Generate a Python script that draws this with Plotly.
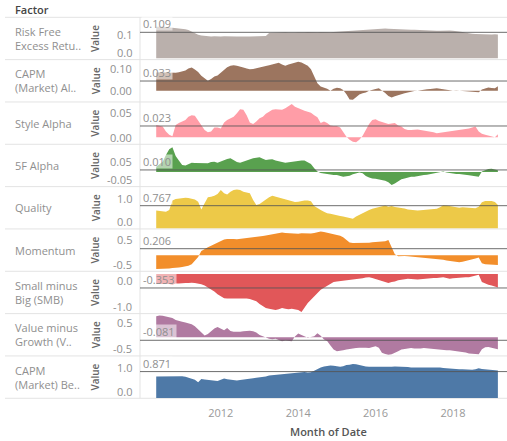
import plotly.graph_objects as go
import pandas as pd

# ---------------- data ----------------
months = pd.date_range("2010-05-01", "2019-03-01", freq="MS")

factor_labels = ["Risk Free<br>Excess Retu..", "CAPM<br>(Market) Al..", "Style Alpha",
                 "5F Alpha", "Quality", "Momentum", "Small minus<br>Big (SMB)",
                 "Value minus<br>Growth (V..", "CAPM<br>(Market) Be.."]

colors = ["#BAB0AC", "#9C755F", "#FF9DA7", "#59A14F", "#EDC948",
          "#F28E2B", "#E15759", "#B07AA1", "#4E79A7"]

ref_values = [0.109, 0.033, 0.023, 0.010, 0.767, 0.206, -0.353, -0.081, 0.871]
ref_labels = ["0.109", "0.033", "0.023", "0.010", "0.767", "0.206", "-0.353", "-0.081", "0.871"]

tick_values = [[0.0, 0.1], [0.0, 0.1], [0.0, 0.05], [-0.05, 0.05], [0.0, 1.0],
               [-0.5, 0.5], [-1.0, 0.0], [-0.5, 0.5], [0.0, 1.0]]
tick_texts = [["0.0", "0.1"], ["0.00", "0.10"], ["0.00", "0.05"], ["-0.05", "0.05"],
              ["0.0", "1.0"], ["-0.5", "0.5"], ["-1.0", "0.0"], ["-0.5", "0.5"], ["0.0", "1.0"]]

y_ranges = [[-0.0055, 0.172], [-0.0383, 0.1058], [-0.0143, 0.072], [-0.0705, 0.1338],
            [-0.0224, 1.4136], [-0.5, 0.823], [-1.0, 0.068], [-0.504, 0.64], [-0.01, 1.388]]

x_tick_years = ["2012", "2014", "2016", "2018"]

risk_free = [
    0.132, 0.134, 0.133, 0.131, 0.130, 0.127, 0.126, 0.125,
    0.124, 0.122, 0.119, 0.112, 0.105, 0.099, 0.096, 0.094, 0.093, 0.092, 0.093, 0.091,
    0.092, 0.093, 0.092, 0.091, 0.090, 0.091, 0.092, 0.093, 0.092, 0.091, 0.092, 0.093,
    0.094, 0.093, 0.094, 0.106, 0.107, 0.108, 0.107, 0.108, 0.109, 0.108, 0.107, 0.108,
    0.109, 0.108, 0.109, 0.110, 0.109, 0.108, 0.109, 0.110, 0.109, 0.108, 0.109, 0.110,
    0.111, 0.112, 0.113, 0.115, 0.116, 0.117, 0.118, 0.119, 0.120, 0.120, 0.121, 0.122,
    0.122, 0.123, 0.124, 0.125, 0.124, 0.123, 0.123, 0.122, 0.122, 0.121, 0.121, 0.120,
    0.120, 0.119, 0.119, 0.118, 0.118, 0.117, 0.117, 0.116, 0.116, 0.117, 0.118, 0.117,
    0.116, 0.115, 0.113, 0.110, 0.107, 0.104, 0.103, 0.102, 0.101, 0.101, 0.102, 0.101,
    0.100, 0.101, 0.100]

capm_alpha = [
    0.062, 0.063, 0.063, 0.062, 0.061, 0.061, 0.061, 0.063,
    0.065, 0.069, 0.076, 0.079, 0.072, 0.064, 0.051, 0.042, 0.034, 0.040, 0.048, 0.052,
    0.061, 0.071, 0.080, 0.085, 0.087, 0.085, 0.083, 0.079, 0.076, 0.073, 0.074, 0.076,
    0.079, 0.082, 0.084, 0.087, 0.090, 0.093, 0.095, 0.089, 0.085, 0.089, 0.093, 0.097,
    0.099, 0.096, 0.091, 0.085, 0.073, 0.050, 0.025, 0.014, 0.011, 0.007, 0.000, 0.007,
    0.010, 0.008, 0.002, -0.012, -0.030, -0.031, -0.022, -0.013, -0.009, -0.006, 0.000, 0.004,
    0.006, 0.008, 0.001, -0.008, -0.018, -0.023, -0.019, -0.015, -0.012, -0.009, -0.006, -0.003,
    -0.001, 0.000, 0.002, 0.004, 0.005, 0.006, 0.008, 0.008, 0.007, 0.005, 0.003, 0.000,
    0.000, 0.001, 0.000, 0.000, -0.001, -0.001, -0.002, -0.004, -0.005, 0.004, 0.008, 0.011,
    0.009, 0.008, 0.015]

style_alpha = [
    0.025, 0.024, 0.022, 0.012, 0.005, 0.002, 0.025, 0.029,
    0.032, 0.035, 0.042, 0.045, 0.044, 0.035, 0.025, 0.015, 0.010, 0.012, 0.020, 0.020,
    0.018, 0.030, 0.035, 0.039, 0.042, 0.049, 0.057, 0.056, 0.045, 0.030, 0.027, 0.032,
    0.039, 0.042, 0.048, 0.052, 0.056, 0.057, 0.056, 0.056, 0.059, 0.064, 0.068, 0.062,
    0.059, 0.057, 0.054, 0.052, 0.050, 0.045, 0.041, 0.029, 0.032, 0.029, 0.024, 0.023,
    0.023, 0.020, 0.012, 0.001, -0.005, -0.009, -0.010, -0.005, 0.003, 0.015, 0.027, 0.035,
    0.037, 0.033, 0.031, 0.029, 0.027, 0.028, 0.029, 0.024, 0.022, 0.017, 0.015, 0.015,
    0.016, 0.016, 0.015, 0.014, 0.013, 0.011, 0.010, 0.008, 0.009, 0.010, 0.010, 0.011,
    0.012, 0.014, 0.015, 0.015, 0.016, 0.018, 0.020, 0.022, 0.012, 0.007, 0.005, 0.003,
    0.001, 0.000, 0.006]

ff_alpha = [
    0.026, 0.039, 0.050, 0.082, 0.110, 0.119, 0.077, 0.055,
    0.034, 0.031, 0.039, 0.045, 0.043, 0.042, 0.042, 0.042, 0.042, 0.048, 0.050, 0.045,
    0.052, 0.058, 0.063, 0.066, 0.055, 0.048, 0.045, 0.050, 0.058, 0.063, 0.066, 0.069,
    0.071, 0.064, 0.058, 0.060, 0.061, 0.055, 0.050, 0.048, 0.045, 0.047, 0.050, 0.052,
    0.055, 0.056, 0.055, 0.048, 0.039, 0.018, 0.002, -0.005, -0.008, -0.010, -0.013, -0.014,
    -0.014, -0.018, -0.023, -0.021, -0.018, -0.011, -0.006, -0.002, -0.006, -0.019, -0.026, -0.031,
    -0.032, -0.035, -0.037, -0.042, -0.050, -0.063, -0.055, -0.045, -0.035, -0.031, -0.026, -0.023,
    -0.023, -0.019, -0.016, -0.014, -0.013, -0.010, -0.006, -0.003, 0.000, 0.002, -0.002, -0.005,
    -0.008, -0.010, -0.010, -0.011, -0.014, -0.016, -0.018, -0.021, -0.023, 0.002, 0.010, 0.014,
    0.016, 0.013, 0.008]

quality = [
    0.60, 0.59, 0.58, 0.56, 0.62, 0.94, 0.99, 1.01,
    1.02, 1.04, 1.03, 1.01, 0.98, 0.90, 0.64, 0.85, 1.05, 1.07, 1.10, 1.16,
    1.30, 1.19, 1.15, 1.24, 1.30, 1.32, 1.30, 1.24, 1.22, 1.19, 0.96, 0.79,
    0.82, 0.90, 0.99, 1.05, 1.10, 1.07, 1.03, 0.99, 0.96, 0.93, 0.90, 0.89,
    0.90, 0.93, 0.94, 0.94, 0.92, 0.76, 0.68, 0.62, 0.56, 0.51, 0.49, 0.46,
    0.45, 0.42, 0.40, 0.37, 0.33, 0.32, 0.40, 0.46, 0.53, 0.58, 0.62, 0.66,
    0.69, 0.71, 0.75, 0.77, 0.73, 0.76, 0.72, 0.71, 0.69, 0.67, 0.64, 0.62,
    0.61, 0.60, 0.61, 0.62, 0.63, 0.64, 0.63, 0.66, 0.71, 0.78, 0.77, 0.75,
    0.73, 0.71, 0.70, 0.71, 0.70, 0.69, 0.69, 0.68, 0.73, 0.88, 0.93, 0.94,
    0.93, 0.89, 0.79]

momentum = [
    -0.43, -0.43, -0.42, -0.41, -0.41, -0.40, -0.38, -0.38,
    -0.37, -0.36, -0.33, -0.28, -0.17, -0.05, 0.13, 0.20, 0.25, 0.30, 0.35, 0.40,
    0.45, 0.49, 0.51, 0.52, 0.51, 0.50, 0.51, 0.52, 0.53, 0.54, 0.56, 0.58,
    0.59, 0.60, 0.62, 0.64, 0.65, 0.67, 0.69, 0.71, 0.70, 0.69, 0.68, 0.67,
    0.67, 0.69, 0.68, 0.67, 0.68, 0.70, 0.72, 0.74, 0.73, 0.71, 0.68, 0.66,
    0.63, 0.61, 0.56, 0.48, 0.40, 0.38, 0.38, 0.38, 0.38, 0.38, 0.39, 0.41,
    0.42, 0.42, 0.43, 0.44, 0.48, 0.23, 0.03, -0.03, -0.02, -0.02, -0.03, -0.04,
    -0.03, -0.04, -0.06, -0.07, -0.08, -0.09, -0.10, -0.11, -0.12, -0.14, -0.16, -0.18,
    -0.20, -0.21, -0.22, -0.20, -0.18, -0.16, -0.14, -0.10, -0.07, -0.25, -0.28, -0.29,
    -0.29, -0.30, -0.30]

smb = [
    -0.25, -0.25, -0.24, -0.24, -0.25, -0.27, -0.24, -0.24,
    -0.23, -0.23, -0.23, -0.22, -0.23, -0.24, -0.26, -0.29, -0.34, -0.38, -0.44, -0.51,
    -0.57, -0.61, -0.62, -0.62, -0.61, -0.61, -0.61, -0.61, -0.62, -0.63, -0.66, -0.69,
    -0.76, -0.82, -0.86, -0.88, -0.90, -0.91, -0.89, -0.86, -0.88, -0.89, -0.88, -0.89,
    -0.91, -0.96, -0.84, -0.73, -0.65, -0.56, -0.49, -0.40, -0.35, -0.30, -0.25, -0.20,
    -0.19, -0.18, -0.17, -0.16, -0.15, -0.14, -0.14, -0.13, -0.11, -0.09, -0.08, -0.10,
    -0.13, -0.16, -0.19, -0.21, -0.23, -0.20, -0.19, -0.16, -0.14, -0.13, -0.12, -0.12,
    -0.13, -0.14, -0.13, -0.13, -0.12, -0.11, -0.10, -0.10, -0.08, -0.08, -0.10, -0.12,
    -0.11, -0.10, -0.09, -0.08, -0.08, -0.08, -0.06, -0.04, -0.02, -0.20, -0.24, -0.27,
    -0.29, -0.31, -0.34]

value_growth = [
    0.57, 0.59, 0.58, 0.56, 0.55, 0.52, 0.47, 0.44,
    0.42, 0.40, 0.38, 0.35, 0.30, 0.22, 0.12, 0.05, 0.09, 0.16, 0.24, 0.28,
    0.23, 0.19, 0.25, 0.17, 0.15, 0.14, 0.15, 0.16, 0.17, 0.18, 0.16, 0.13,
    0.06, 0.02, -0.01, -0.04, -0.05, -0.04, -0.07, -0.11, -0.09, -0.10, -0.11, 0.02,
    0.10, 0.06, 0.02, -0.01, 0.01, 0.03, 0.11, 0.04, -0.06, -0.10, -0.22, -0.33,
    -0.38, -0.37, -0.35, -0.33, -0.31, -0.30, -0.29, -0.28, -0.27, -0.28, -0.29, -0.27,
    -0.24, -0.28, -0.42, -0.45, -0.47, -0.46, -0.43, -0.38, -0.33, -0.31, -0.30, -0.29,
    -0.30, -0.31, -0.30, -0.29, -0.30, -0.31, -0.32, -0.33, -0.34, -0.35, -0.35, -0.35,
    -0.36, -0.37, -0.38, -0.40, -0.41, -0.44, -0.45, -0.47, -0.46, -0.32, -0.27, -0.26,
    -0.28, -0.30, -0.32]

capm_beta = [
    0.71, 0.71, 0.71, 0.71, 0.72, 0.72, 0.72, 0.73,
    0.72, 0.70, 0.67, 0.64, 0.60, 0.52, 0.63, 0.61, 0.60, 0.58, 0.57, 0.56,
    0.60, 0.64, 0.62, 0.60, 0.59, 0.58, 0.59, 0.60, 0.61, 0.63, 0.65, 0.67,
    0.68, 0.69, 0.71, 0.74, 0.75, 0.77, 0.77, 0.77, 0.78, 0.80, 0.81, 0.82,
    0.83, 0.85, 0.86, 0.84, 0.85, 0.90, 0.96, 1.01, 1.04, 1.06, 1.07, 1.06,
    1.05, 1.03, 1.05, 1.09, 1.10, 1.12, 1.11, 1.08, 1.06, 1.04, 1.03, 1.03,
    1.02, 1.01, 1.01, 1.01, 1.02, 1.03, 1.04, 1.04, 1.03, 1.03, 1.02, 1.01,
    1.01, 1.01, 1.01, 1.01, 1.01, 1.01, 1.02, 1.03, 1.01, 0.99, 0.98, 0.96,
    0.96, 0.96, 0.95, 0.95, 0.94, 0.94, 0.93, 0.95, 0.98, 0.96, 0.95, 0.94,
    0.93, 0.92, 0.91]

series = [risk_free, capm_alpha, style_alpha, ff_alpha, quality,
          momentum, smb, value_growth, capm_beta]

# ---------------- layout constants ----------------
W, H = 507, 441
FONT = "Open Sans"
pane_left = 140
first_top = 17.3
row_h = 42.33
n_rows = len(series)
grey_txt = "#8f8f8f"

fig = go.Figure()
layout = {}
annotations = []
shapes = []

for i, vals in enumerate(series):
    ya = "y" if i == 0 else f"y{i + 1}"
    yname = "yaxis" if i == 0 else f"yaxis{i + 1}"
    fig.add_trace(go.Scatter(
        x=months[:len(vals)], y=vals, mode="lines",
        line=dict(width=0, color=colors[i]), fill="tozeroy",
        fillcolor=colors[i], xaxis="x", yaxis=ya,
        hoverinfo="skip", showlegend=False))

    top_px = first_top + i * row_h
    bot_px = top_px + row_h
    layout[yname] = dict(domain=[1 - bot_px / H, 1 - top_px / H],
                         range=y_ranges[i], visible=False, fixedrange=True)

    # factor header
    annotations.append(dict(text=factor_labels[i], xref="paper", x=13 / W,
                            yref=f"{ya} domain", y=0.5, xanchor="left",
                            yanchor="middle", align="left", showarrow=False,
                            font=dict(family=FONT, size=11, color=grey_txt)))
    # axis title
    annotations.append(dict(text="Value", xref="paper", x=95.5 / W,
                            yref=f"{ya} domain", y=0.5, textangle=-90,
                            xanchor="center", yanchor="middle", showarrow=False,
                            font=dict(family=FONT, size=10, color="#666666",
                                      weight=600)))
    # tick labels, kept inside the pane like Tableau does
    r0, r1 = y_ranges[i]
    for v, t in zip(tick_values[i], tick_texts[i]):
        frac = (v - r0) / (r1 - r0)
        frac = min(frac, 1 - 9 / row_h)
        frac = max(frac, 7 / row_h)
        annotations.append(dict(text=t, xref="paper", x=134 / W,
                                yref=f"{ya} domain", y=frac, xanchor="right",
                                yanchor="middle", showarrow=False,
                                font=dict(family=FONT, size=11, color=grey_txt)))
    # reference (average) line and label
    shapes.append(dict(type="line", xref="x domain", x0=0, x1=1, yref=ya,
                       y0=ref_values[i], y1=ref_values[i], layer="above",
                       line=dict(color="rgba(85,85,85,0.85)", width=1)))
    annotations.append(dict(text=ref_labels[i], xref="paper", x=141 / W,
                            yref=ya, y=ref_values[i], xanchor="left",
                            yanchor="middle", yshift=8.5, showarrow=False,
                            bgcolor="rgba(255,255,255,0.55)", borderpad=1,
                            height=11,
                            font=dict(family=FONT, size=11, color=grey_txt)))

# row separators
for k in range(n_rows + 1):
    yp = 1 - (first_top + k * row_h) / H
    shapes.append(dict(type="line", xref="paper", x0=5 / W, x1=1, yref="paper",
                       y0=yp, y1=yp, layer="below",
                       line=dict(color="#e3e3e3", width=1)))
shapes.append(dict(type="line", xref="paper", x0=pane_left / W, x1=pane_left / W,
                   yref="paper", y0=1 - first_top / H,
                   y1=1 - (first_top + n_rows * row_h) / H, layer="below",
                   line=dict(color="#e3e3e3", width=1)))

annotations.append(dict(text="Factor", xref="paper", x=13 / W, yref="paper",
                        y=1 - 10 / H, xanchor="left", yanchor="middle",
                        showarrow=False,
                        font=dict(family=FONT, size=11, color="#444444", weight=600)))
annotations.append(dict(text="Month of Date", xref="paper", x=328 / W,
                        yref="paper", y=0, xanchor="center",
                        yanchor="bottom", showarrow=False,
                        font=dict(family=FONT, size=11, color="#555555", weight=600)))

layout["xaxis"] = dict(domain=[pane_left / W, 1], anchor=f"y{n_rows}",
                       range=["2009-11-29", "2019-05-26"], type="date",
                       tickvals=[f"{y}-01-01" for y in x_tick_years],
                       ticktext=x_tick_years, showgrid=False, zeroline=False,
                       showline=False, ticks="", fixedrange=True,
                       ticklabelstandoff=7,
                       tickfont=dict(family=FONT, size=11, color="#999999"))

fig.update_layout(**layout)
fig.update_layout(width=W, height=H, margin=dict(l=0, r=0, t=0, b=0),
                  paper_bgcolor="white", plot_bgcolor="white",
                  annotations=annotations, shapes=shapes, hovermode=False,
                  font=dict(family=FONT))

fig.write_html("out.html", config={"displayModeBar": False, "staticPlot": True},
               post_script="document.body.style.margin='0';document.body.style.overflow='hidden';")
